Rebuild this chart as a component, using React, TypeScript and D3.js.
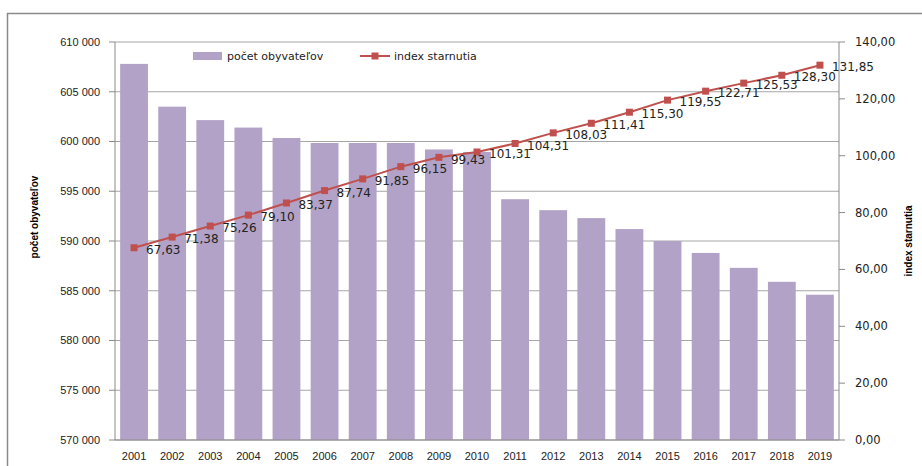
import React from "react";
import * as d3 from "d3";

const years = ["2001","2002","2003","2004","2005","2006","2007","2008","2009","2010","2011","2012","2013","2014","2015","2016","2017","2018","2019"];
const population = [607800,603500,602150,601400,600350,599850,599850,599850,599200,598950,594200,593100,592300,591200,590000,588800,587300,585900,584600];
const agingIndex = [67.63,71.38,75.26,79.10,83.37,87.74,91.85,96.15,99.43,101.31,104.31,108.03,111.41,115.30,119.55,122.71,125.53,128.30,131.85];
const leftTicks = [570000,575000,580000,585000,590000,595000,600000,605000,610000];
const rightTicks = [0,20,40,60,80,100,120,140];

const W = 922, H = 466;
const X0 = 115, X1 = 839, Y0 = 42, Y1 = 440;
const BAR = "#b3a2c7";
const LINE = "#c0504d";

const fmtPop = (v: number) => d3.format(",")(v).replace(/,/g, " ");
const fmtIdx = (v: number) => v.toFixed(2).replace(".", ",");

export default function App() {
  const x = d3.scaleBand<string>().domain(years).range([X0, X1]).paddingInner(0.27).paddingOuter(0.135);
  const xc = (y: string) => (x(y) as number) + x.bandwidth() / 2;
  const yL = d3.scaleLinear().domain([570000, 610000]).range([Y1, Y0]);
  const yR = d3.scaleLinear().domain([0, 140]).range([Y1, Y0]);
  const line = d3.line<number>().x((_, i) => xc(years[i])).y((d) => yR(d));

  return (
    <svg width={W} height={H} style={{ position: "absolute", left: 0, top: 0, background: "#fff" }}>
      {/* outer frame */}
      <path d={`M7.5,${H} L7.5,13.5 L${W},13.5`} fill="none" stroke="#8a8a8a" strokeWidth={1.5} />
      {/* gridlines */}
      {leftTicks.map((t) => (
        <line key={t} x1={X0} x2={X1} y1={yL(t)} y2={yL(t)} stroke="#a6a6a6" strokeWidth={1} />
      ))}
      {/* bars */}
      {population.map((v, i) => (
        <rect key={years[i]} x={x(years[i])} width={x.bandwidth()} y={yL(v)} height={Y1 - yL(v)} fill={BAR} />
      ))}
      {/* axes */}
      <line x1={X0} x2={X0} y1={Y0} y2={Y1} stroke="#8a8a8a" strokeWidth={1} />
      <line x1={X1} x2={X1} y1={Y0} y2={Y1} stroke="#8a8a8a" strokeWidth={1} />
      <line x1={X0} x2={X1} y1={Y1} y2={Y1} stroke="#8a8a8a" strokeWidth={1} />
      {leftTicks.map((t) => (
        <g key={"l" + t}>
          <line x1={X0 - 6} x2={X0} y1={yL(t)} y2={yL(t)} stroke="#8a8a8a" />
          <text x={100} y={yL(t)} dy="0.35em" textAnchor="end" fontFamily="Liberation Sans, Arial, sans-serif" fontSize={11} fill="#222">{fmtPop(t)}</text>
        </g>
      ))}
      {rightTicks.map((t) => (
        <g key={"r" + t}>
          <line x1={X1} x2={X1 + 6} y1={yR(t)} y2={yR(t)} stroke="#8a8a8a" />
          <text x={855} y={yR(t)} dy="0.35em" textAnchor="start" fontFamily="DejaVu Sans, Verdana, sans-serif" fontSize={11.5} fill="#222">{fmtIdx(t)}</text>
        </g>
      ))}
      {years.map((yr) => (
        <text key={"x" + yr} x={xc(yr)} y={460} textAnchor="middle" fontFamily="Liberation Sans, Arial, sans-serif" fontSize={11} fill="#222">{yr}</text>
      ))}
      {/* axis titles */}
      <text transform={`translate(38,217) rotate(-90)`} textAnchor="middle" fontFamily="Liberation Sans, Arial, sans-serif" fontSize={10} fontWeight="bold" fill="#000">počet obyvateľov</text>
      <text transform={`translate(912,241) rotate(-90)`} textAnchor="middle" fontFamily="Liberation Sans, Arial, sans-serif" fontSize={10} fontWeight="bold" fill="#000">index starnutia</text>
      {/* line series */}
      <path d={line(agingIndex) as string} fill="none" stroke={LINE} strokeWidth={2} />
      {agingIndex.map((v, i) => (
        <rect key={"m" + i} x={xc(years[i]) - 3.5} y={yR(v) - 3.5} width={7} height={7} fill={LINE} />
      ))}
      {agingIndex.map((v, i) => (
        <text key={"d" + i} x={xc(years[i]) + 12} y={yR(v) + 2} dy="0.35em" fontFamily="DejaVu Sans, Verdana, sans-serif" fontSize={12} fill="#222">{fmtIdx(v)}</text>
      ))}
      {/* legend */}
      <rect x={193} y={52} width={29} height={8} fill={BAR} />
      <text x={227} y={56} dy="0.35em" fontFamily="DejaVu Sans, Verdana, sans-serif" fontSize={11} fill="#222">počet obyvateľov</text>
      <line x1={360} x2={390} y1={56} y2={56} stroke={LINE} strokeWidth={2} />
      <rect x={371.5} y={52.5} width={7} height={7} fill={LINE} />
      <text x={394} y={56} dy="0.35em" fontFamily="DejaVu Sans, Verdana, sans-serif" fontSize={11} fill="#222">index starnutia</text>
    </svg>
  );
}
